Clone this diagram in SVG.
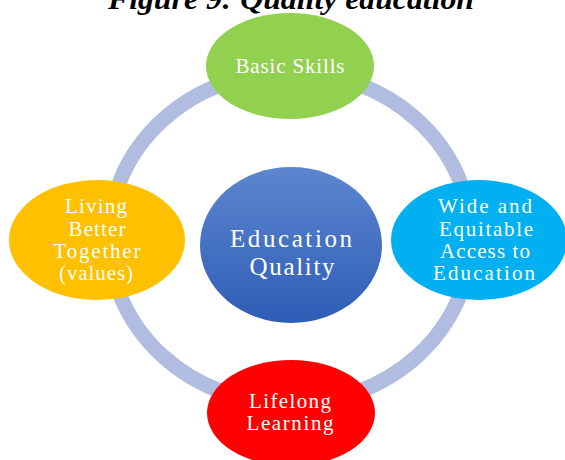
<svg xmlns="http://www.w3.org/2000/svg" width="565" height="460" viewBox="0 0 565 460">
<style>
.t{font-family:"Liberation Serif","DejaVu Serif",serif;fill:#ffffff;text-anchor:middle;font-size:21px}
.c{font-size:25px}
.title{font-family:"Liberation Serif",serif;font-weight:bold;font-style:italic;font-size:30px;fill:#000;text-anchor:middle}
</style>
<defs>
<linearGradient id="bg" x1="0" y1="0" x2="0" y2="1">
<stop offset="0" stop-color="#5d86cf"/>
<stop offset="1" stop-color="#2e5db6"/>
</linearGradient>
</defs>
<rect width="565" height="460" fill="#ffffff"/>
<text class="title" x="291" y="9" textLength="366" lengthAdjust="spacingAndGlyphs">Figure 9: Quality education</text>
<g id="connectors">
<ellipse cx="290" cy="238" rx="181" ry="166" fill="none" stroke="#b1bde0" stroke-width="15"/>
</g>
<g id="center">
<ellipse cx="291" cy="245" rx="91" ry="78" fill="url(#bg)"/>
<text class="t c" x="291" y="247" textLength="122">Education</text>
<text class="t c" x="292" y="275" textLength="85">Quality</text>
</g>
<g id="basic">
<ellipse cx="290" cy="66" rx="84" ry="53" fill="#92d050"/>
<text class="t" x="290" y="73" textLength="109">Basic Skills</text>
</g>
<g id="living">
<ellipse cx="97" cy="240" rx="88" ry="60" fill="#ffc000"/>
<text class="t" x="96" y="213" textLength="62">Living</text>
<text class="t" x="97" y="236" textLength="57">Better</text>
<text class="t" x="97" y="258" textLength="87">Together</text>
<text class="t" x="96" y="280" textLength="74">(values)</text>
</g>
<g id="access">
<ellipse cx="479" cy="240" rx="88" ry="60" fill="#00b0f0"/>
<text class="t" x="485" y="213" textLength="94">Wide and</text>
<text class="t" x="486" y="236" textLength="94">Equitable</text>
<text class="t" x="485" y="258" textLength="90">Access to</text>
<text class="t" x="484" y="280" textLength="102">Education</text>
</g>
<g id="lifelong">
<ellipse cx="291" cy="413" rx="84" ry="53" fill="#ff0000"/>
<text class="t" x="290" y="408" textLength="82">Lifelong</text>
<text class="t" x="290" y="430" textLength="87">Learning</text>
</g>
</svg>
